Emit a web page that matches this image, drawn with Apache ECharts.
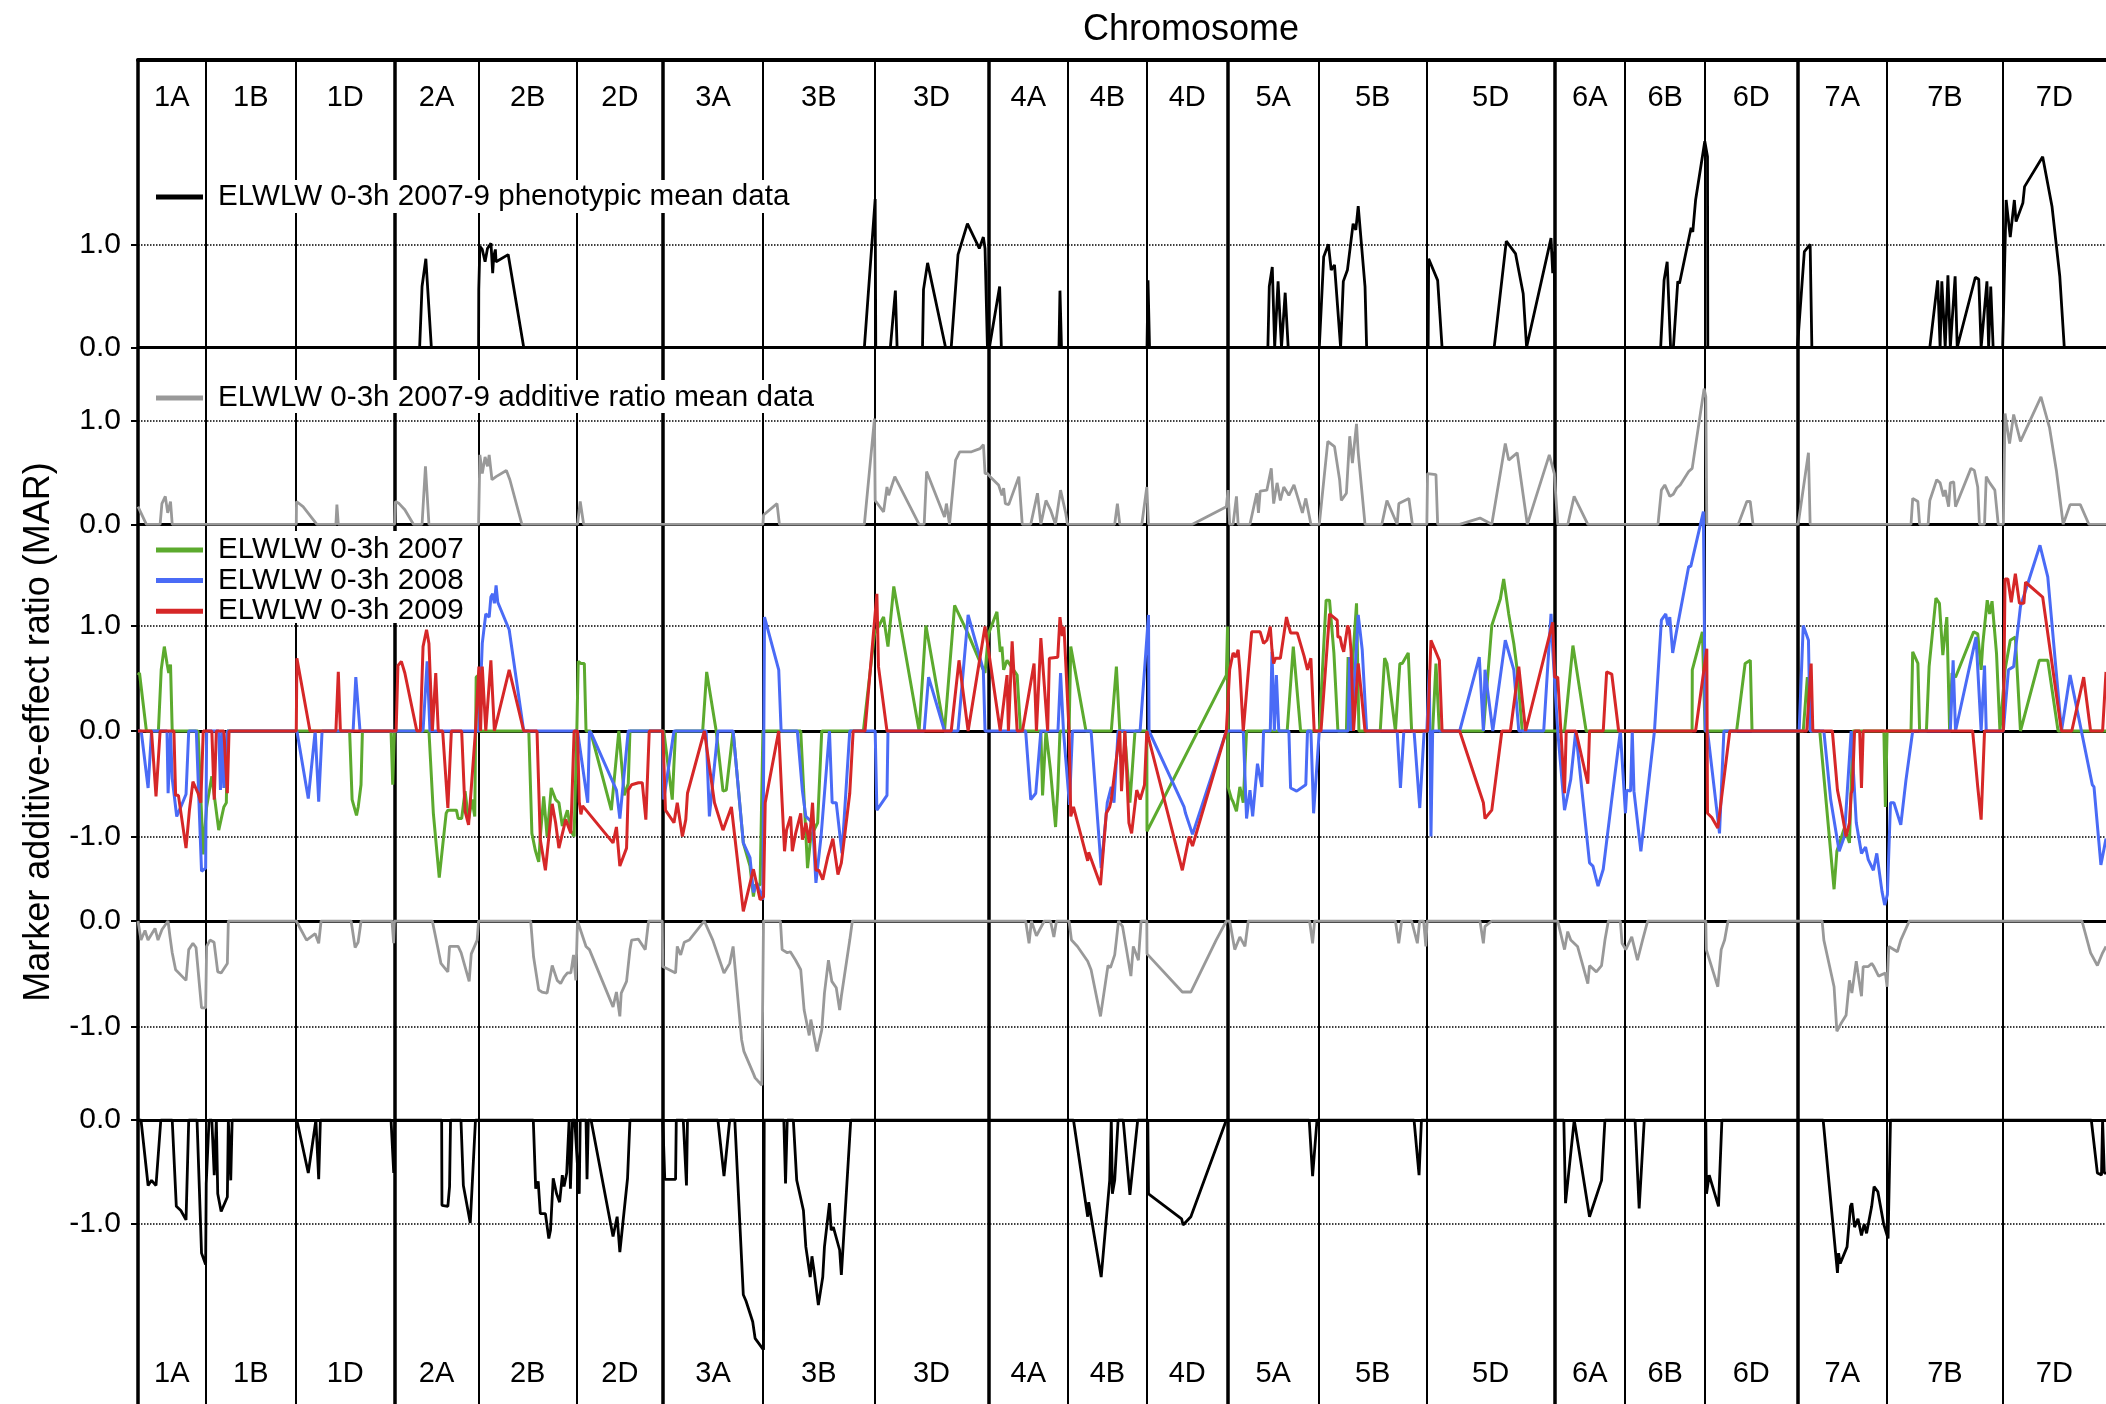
<!DOCTYPE html>
<html><head><meta charset="utf-8">
<script src="https://cdn.jsdelivr.net/npm/echarts@6/dist/echarts.min.js"></script>
<style>html,body{margin:0;padding:0;background:#fff}#c{width:2106px;height:1404px}</style>
</head><body><div id="c"></div>
<script>
// Chromosomes and cumulative map positions of their boundaries (arbitrary genome units)
const chromosomes = ['1A','1B','1D','2A','2B','2D','3A','3B','3D','4A','4B','4D','5A','5B','5D','6A','6B','6D','7A','7B','7D'];
const boundaries = [0,67.5,158,256.3,340.4,438.6,524.5,624.9,736.1,850,929.6,1008.3,1089.1,1180,1288.2,1415.6,1486.4,1566.3,1658.6,1748.2,1863.7,1967];
const genomeGroupStarts = ['2A','3A','4A','5A','6A','7A'];

// Series: [cumulative position, marker additive-effect ratio]
const phenoPos = [[0,0],[281.5,0],[283.9,0.59],[287.7,0.86],[293.2,0],
[340.4,0],[340.6,0.56],[341.7,0.98],[344.1,0.95],[346.9,0.83],[349.3,0.96],[352.8,1.01],[354.5,0.72],[355.5,0.88],[357.2,0.95],[357.9,0.83],[370,0.9],[385.5,0],
[726,0],[736.8,1.44],[737.4,0],[752,0],[757,0.55],[758.7,0],[784.1,0],[785.1,0.56],[789.2,0.82],[807.1,0],
[812.8,0],[819.6,0.9],[829,1.2],[840.9,0.96],[844.9,1.07],[846.6,0.96],[849,0],[851,0],[861.2,0.59],[862.9,0],
[920.5,0],[921.5,0.55],[923,0],[1008.5,0],[1009.5,0.65],[1011,0],
[1129.3,0],[1130.7,0.59],[1133.7,0.78],[1136.1,0],[1139.5,0.64],[1142.9,0],[1146.6,0.53],[1149.6,0],
[1180.7,0],[1185.1,0.88],[1189.8,1.0],[1192.6,0.75],[1195.9,0.8],[1202,0],[1204.7,0.64],[1208.8,0.75],[1214.5,1.2],[1217.2,1.14],[1219.6,1.37],[1226.4,0.59],[1228,0],
[1289.5,0],[1290,0.86],[1299,0.65],[1303.4,0],
[1355.5,0],[1367.6,1.03],[1376.8,0.91],[1384.5,0.52],[1387.9,0],[1412.3,1.06],[1414,0.72],[1415.6,0.93],[1416.3,0],
[1521.9,0],[1525.3,0.65],[1527,0.65],[1528.4,0.83],[1531.8,0],[1534.6,0],[1539,0.64],[1540.7,0.62],[1552.3,1.16],[1554,1.12],[1556.8,1.43],[1566,2.0],[1568.7,1.85],[1569,0],
[1658.6,0],[1665.5,0.93],[1671.3,1.0],[1673,0],
[1790.9,0],[1798.8,0.65],[1801.2,0],[1802.9,0.64],[1806.3,0],[1809,0.7],[1811.4,0],[1816.2,0.69],[1818.3,0],[1836.4,0.68],[1839.8,0.66],[1842.2,0],[1848,0.64],[1849.7,0],[1851.8,0.59],[1854.2,0],
[1863.7,0],[1867.2,1.43],[1871.3,1.07],[1875.4,1.43],[1877.1,1.22],[1883.9,1.4],[1885.6,1.56],[1903.7,1.85],[1913,1.37],[1920.8,0.69],[1925.3,0],[1967,0]];

const addPos = [[0,0.17],[8.4,0],[22.1,0],[23.9,0.2],[27.3,0.27],[29.7,0.11],[32.5,0.22],[34.2,0],
[158.2,0],[158.4,0.22],[165,0.17],[178.8,0],[197.8,0],[198.8,0.19],[200.2,0],
[256.5,0],[257.3,0.22],[261,0.2],[266.7,0.14],[275.3,0],[283.9,0],[287.3,0.56],[290.8,0],
[340.4,0],[341.7,0.67],[344.1,0.49],[346.9,0.65],[349.3,0.56],[351,0.67],[353.8,0.43],[357.9,0.46],[368.2,0.52],[371.7,0.43],[383.7,0],
[439.3,0],[442,0.22],[445.4,0],[624.6,0],[625.2,0.09],[638.7,0.2],[641.1,0],
[726,0],[736.1,1.02],[736.8,0.23],[745.2,0.12],[748.6,0.36],[750.3,0.28],[756.4,0.46],[780.7,0],[785.8,0],[788.2,0.51],[806.1,0.07],[808,0.2],[811.1,0],[817.2,0.62],[821.3,0.7],[833.1,0.7],[841.6,0.73],[845,0.77],[846.6,0.49],[849,0.49],
[851.7,0.46],[860.1,0.38],[863.5,0.28],[865.2,0.35],[866.9,0.2],[870.3,0.19],[872,0.2],[880.4,0.46],[883.8,0],[892.3,0],[899,0.3],[902.4,0],[907.5,0.23],[912,0.14],[917,0],[922.1,0.33],[927.2,0.11],[929,0],
[976.2,0],[978.9,0.2],[981.3,0],[1003.3,0],[1008.3,0.36],[1010,0],[1054,0],[1087.8,0.17],[1089.5,0.33],[1091.1,0],
[1094.5,0],[1097.9,0.27],[1099.6,0],[1111.4,0],[1118.2,0.3],[1119.9,0.11],[1121.6,0.32],[1128.3,0.33],[1132.7,0.54],[1135.1,0.2],[1138.5,0.4],[1141.8,0.23],[1145.2,0.36],[1150.3,0.28],[1155.4,0.38],[1163.8,0.11],[1167.2,0.25],[1172.3,0],
[1180.7,0],[1189.2,0.8],[1195.9,0.75],[1201,0.43],[1202.7,0.23],[1207.8,0.3],[1211.1,0.85],[1213.8,0.59],[1217.9,0.97],[1219.6,0.69],[1226.4,0],
[1243.2,0],[1248.3,0.23],[1258.5,0],[1260.2,0.2],[1270.2,0.25],[1273.7,0],
[1288.2,0],[1288.9,0.49],[1297.3,0.48],[1299,0],[1321,0],[1341.3,0.06],[1353.1,0],[1366.6,0.78],[1370,0.62],[1378.5,0.69],[1388.6,0],[1410.6,0.67],[1415.6,0.49],
[1419,0],[1429.1,0],[1435.4,0.27],[1449.1,0],
[1519.2,0],[1522.6,0.33],[1526,0.38],[1531.1,0.27],[1534.5,0.29],[1538,0.35],[1541.4,0.38],[1549.9,0.51],[1553.4,0.54],[1565.3,1.31],[1567,1.23],[1568,0],
[1599.5,0],[1608,0.22],[1611.4,0.22],[1614.2,0],[1659.3,0],[1669.6,0.69],[1671.3,0],
[1772.1,0],[1773.8,0.25],[1779,0.22],[1780.7,0],[1789.2,0],[1790.9,0.23],[1797.8,0.43],[1801.2,0.4],[1804.6,0.27],[1806.3,0.33],[1809.7,0.17],[1811.4,0.4],[1814.8,0.41],[1816.6,0.17],[1832,0.54],[1835.4,0.52],[1838.8,0.36],[1840.5,0],[1845.6,0],[1847.3,0.46],[1850.8,0.4],[1855.9,0.33],[1859.3,0],
[1864.4,0],[1866.1,1.07],[1870.6,0.78],[1874.7,1.06],[1881.5,0.8],[1902,1.23],[1910.6,0.93],[1917.4,0.52],[1924.2,0],[1931.1,0.19],[1941.3,0.19],[1949.9,0],[1967,0]];

const mar2007 = [[0,0.53],[1.5,0.55],[8.4,0],[20.4,0],[23.2,0.58],[26.3,0.8],[29,0.64],[30.7,0.55],[32.5,0.63],[34.2,0],
[60,0],[65.2,-1.17],[67.6,-0.84],[68.6,-0.72],[73.8,-0.43],[80.7,-0.94],[85.8,-0.72],[88.3,-0.68],[89.3,0],
[211.5,0],[214,-0.65],[218.4,-0.8],[220.1,-0.72],[222.9,-0.51],[224.3,0],[252.9,0],[254.6,-0.51],[256.3,0],
[290.8,0],[295.2,-0.78],[301.1,-1.39],[308,-0.78],[309.7,-0.75],[318.3,-0.75],[320,-0.83],[323.5,-0.83],[326.9,-0.57],[330.4,-0.84],[333.8,-0.65],[336.6,-0.81],[338,0.51],[340.4,0.53],[341,0],
[390.6,0],[393.7,-0.97],[397.1,-1.13],[400.5,-1.24],[402.1,-1.0],[405.5,-0.62],[408.9,-1.0],[413,-0.54],[417.4,-0.65],[420.7,-0.68],[424.1,-0.9],[429.2,-0.75],[432.6,-0.95],[435.9,-1.0],[438.6,0],
[440,0.66],[442.7,0.64],[446.1,0.64],[447.8,0],[452.2,0],[473.1,-0.75],[480.6,0],[486,-0.61],[490,-0.5],[491.7,0],
[525.5,0],[534,-0.65],[537.3,0],[564.4,0],[568.4,0.56],[577.9,0],[584.7,-0.57],[588,-0.56],[594.8,0],[605,-1.06],[611.7,-1.28],[615.1,-1.57],[616.8,-1.46],[621.8,-1.46],[624.6,0],
[662.4,0],[669.2,-1.3],[672.5,-1.0],[679.3,-0.87],[683.4,0],
[725,0],[736.1,0.92],[745.2,1.08],[749.6,0.8],[755.4,1.37],[780.7,0],[787.5,1.0],[806.1,0],[816.2,1.19],[829.7,0.92],[844.9,0.58],[846.6,0.55],[850,0.92],[858.5,1.13],[861.8,0.75],[863.5,0.8],[865.2,0.58],[868.6,0.67],[878.7,0.53],[882.1,0],[902.4,0],[904.1,-0.61],[907.5,0],[912,-0.37],[917.1,-0.91],[919.4,-0.54],[921.5,0],
[930.6,0],[932.3,0.8],[947.5,0],[972.8,0],[977.9,0.61],[981.3,0],[986,0],[991.4,-0.68],[996.5,0],
[1008.3,0],[1008.5,-0.95],[1087.8,0.53],[1089,0.99],[1089.5,-0.53],[1092.8,-0.64],[1094.5,-0.67],[1097.9,-0.76],[1101.3,-0.53],[1104.7,-0.68],[1108,0],
[1148.6,0],[1154.7,0.8],[1162,0],
[1180.7,0],[1187.5,1.24],[1190.9,1.24],[1195.3,0.74],[1199.3,0],[1207.8,0],[1209.5,0.7],[1211,0],[1214.5,0.72],[1217.9,1.21],[1220.3,0],[1241.6,0],[1246,0.69],[1248.3,0.64],[1256.8,0],[1261.2,0.64],[1263.6,0.64],[1269.6,0.74],[1273,0],
[1294,0],[1297.3,0.64],[1300.7,0],[1344.7,0],[1353.1,1.0],[1361.6,1.25],[1365,1.44],[1370,1.11],[1375.1,0.83],[1378.5,0.58],[1383.5,0],
[1425.8,0],[1434.2,0.81],[1435.4,0.81],[1447.4,0],
[1553.3,0],[1553.5,0.58],[1563.6,0.94],[1566.3,0],[1597.8,0],[1606.3,0.64],[1611.5,0.67],[1613.2,0],
[1664.4,0],[1668.5,0.51],[1671.3,0],[1680.9,0],[1695.2,-1.5],[1698,-1.14],[1705.5,-0.92],[1710.6,-1.06],[1714,0],[1745,0],[1746.5,-0.72],[1748.2,0],
[1772.1,0],[1773.8,0.75],[1779,0.64],[1780.7,0],[1787.5,0],[1790.2,0.61],[1797,1.26],[1800.5,1.21],[1803.9,0.72],[1807.9,1.08],[1810.7,0],[1813.1,0.55],[1816.6,0.51],[1834.7,0.94],[1838.8,0.92],[1842.2,0.58],[1843.9,0.83],[1848.3,1.24],[1850.7,1.11],[1853.1,1.23],[1857.6,0.73],[1861,0],
[1866.1,0.58],[1871.3,0.86],[1876.4,0.89],[1881.5,0],[1900.3,0.67],[1908.8,0.67],[1919.1,0],[1967,0]];

const mar2008 = [[0,0],[3.2,0],[10.1,-0.54],[13.5,0],[29,0],[30.1,-0.59],[32.5,0],[34.2,-0.45],[38.7,-0.81],[42.8,-0.72],[48,-0.6],[50.7,0],[58.3,0],[63.5,-1.33],[67.6,-1.3],[68.6,0],[80.7,0],[82.4,-0.56],[84,0],[85.8,-0.54],[89.3,0],
[158.8,0],[170.2,-0.64],[177.1,0],[180.6,-0.67],[184,0],[215,0],[217.7,0.51],[221.9,0],[284.9,0],[289,0.66],[291.8,0],
[340.7,0],[344.1,0.83],[347.6,1.11],[351,1.08],[352.7,1.27],[354.5,1.3],[356.2,1.21],[357.9,1.38],[359.6,1.22],[371,0.96],[385.5,0],
[439.3,0],[449.5,-0.68],[451.2,0],[453,-0.02],[478.2,-0.56],[481.6,-0.83],[490,0],
[524.5,0],[525.5,-0.65],[535.7,0],[567.8,0],[571.1,-0.81],[579.6,0],[594.8,0],[605,-1.06],[611.7,-1.2],[615.1,-1.53],[618.5,-1.44],[624.5,-1.6],[626.2,1.08],[640.4,0.58],[642.8,0],
[659,0],[664.1,-0.57],[667.5,-0.81],[674.2,-0.87],[677.6,-1.44],[682.7,-1.0],[691.1,0],[693.8,-0.68],[697.9,-0.68],[703.6,-1.16],[711.4,0],
[736.8,0],[738.5,-0.75],[748.6,-0.61],[749.6,0],[785.8,0],[790.2,0.51],[806.1,0],[819.6,0],[829.7,1.1],[844.9,0.58],[846.6,0],
[887.2,0],[892.3,-0.65],[897.3,-0.59],[902.4,0],[919.5,0],[922.1,0.55],[925,0],[931,-0.7],[934,0],
[952.6,0],[962.7,-1.3],[968.8,-0.68],[972.8,-0.53],[975.5,-0.68],[979.6,0],[1001.6,0],[1010,1.1],[1010.5,0],[1045.5,-0.72],[1047,-0.78],[1054,-0.98],[1087.8,0],
[1104.7,0],[1108,-0.83],[1111.4,-0.56],[1114.1,-0.81],[1118.9,-0.31],[1123.3,-0.53],[1125,0],[1131.7,0],[1133.4,0.75],[1135.8,0],[1137.8,0.53],[1140.2,0],[1150.3,0],[1152,-0.54],[1158.1,-0.57],[1167.2,-0.51],[1168.9,0],[1172.3,0],[1175,-0.78],[1180.7,0],
[1209.5,0],[1211.1,0.7],[1213,0],[1219.6,1.1],[1223.6,0.77],[1228,0],[1258.5,0],[1261.8,-0.54],[1265.2,0],[1275.4,0],[1281.1,-0.73],[1285.5,0],
[1288.2,0],[1290.6,0.58],[1292.3,-1.0],[1294,0],[1321,0],[1340.6,0.7],[1344.7,0],[1346.3,0.58],[1354.1,0],[1366.6,0.86],[1375.1,0.58],[1380.1,0],[1405,0],[1412.3,1.11],[1414,0.77],[1419,0],[1425.8,-0.75],[1432,-0.46],[1437,0],
[1450.8,-1.25],[1454.2,-1.28],[1459.3,-1.47],[1464.5,-1.31],[1473,-0.65],[1481.6,0],[1486.7,-0.78],[1488,-0.56],[1489.5,-0.55],[1491.8,-0.57],[1493.5,0],[1495.2,-0.57],[1502.1,-1.14],[1515.7,0],
[1522.6,1.05],[1524.5,1.05],[1527,1.11],[1529,1.0],[1531,1.08],[1533.9,0.74],[1538,0.96],[1549.9,1.56],[1552,1.56],[1564.6,2.08],[1566.5,0],
[1568.7,0],[1580.7,-0.97],[1585.1,0],
[1660.3,0],[1664.4,1.0],[1669.6,0.86],[1671.3,0],[1685,0],[1691.8,-0.65],[1700.3,-1.14],[1705.5,-1.0],[1712.3,0],[1717.4,-0.87],[1722.6,-1.16],[1726.7,-1.1],[1729.4,-1.22],[1734.5,-1.32],[1737.9,-1.16],[1743.1,-1.52],[1745.8,-1.65],[1748.5,-1.55],[1751.6,-0.68],[1755,-0.68],[1761.9,-0.89],[1767,-0.47],[1773.8,0],
[1811.4,0],[1814.2,0.67],[1816.6,0],[1837.1,0.89],[1842.2,0],[1845.6,0.62],[1847.3,0],
[1864.4,0],[1869.5,0.58],[1874.7,0.61],[1881.5,1.18],[1901,1.76],[1908.8,1.46],[1922.5,0],[1931.1,0.53],[1953.3,-0.51],[1955,-0.53],[1961.9,-1.27],[1967,-1.02]];

const mar2009 = [[0,0],[13.5,0],[18,-0.62],[22.1,0],[35.9,0],[37.6,-0.61],[40.4,-0.61],[48,-1.11],[51.4,-0.75],[54.9,-0.48],[60,-0.59],[62.8,-0.68],[65.2,0],[73.8,0],[76.2,-0.65],[78.3,0],[85.8,0],[89.3,-0.59],[91,0],
[158.2,0],[158.8,0.69],[171.9,0],[197.8,0],[200.2,0.56],[202.3,0],
[258,0],[259.8,0.62],[263.2,0.66],[266.7,0.55],[278.7,0],[282.2,0],[284.9,0.8],[288.4,0.96],[290.8,0.83],[294.2,0],[297.6,0.55],[300.1,0],[304.5,0],[309.7,-0.73],[313.2,0],[323.5,0],[326.9,-0.76],[330.4,-0.89],[337.3,0],
[340.7,0.61],[342.4,0],[344.1,0.61],[347.6,0],[352.7,0.67],[356.2,0],[371,0.58],[385.5,0],
[398.8,0],[402.1,-1.03],[407.2,-1.32],[414,-0.69],[417.4,-0.87],[420.7,-1.11],[427.5,-0.84],[432.6,-0.97],[435.9,0],[439.3,0],[441,-0.67],[442.7,-0.79],[444.4,-0.71],[474.8,-1.06],[478.2,-0.91],[481.6,-1.28],[488.3,-1.11],[490,-0.56],[493.4,-0.51],[500.2,-0.49],[504,-0.49],[507.6,-0.84],[511,0],
[524.5,0],[527.2,-0.75],[535.7,-0.87],[539,-0.68],[544.1,-1.0],[547.5,-0.84],[549.2,-0.59],[566.1,0],[576.2,-0.68],[584.7,-0.94],[593.1,-0.72],[595,-0.72],[605,-1.71],[615.1,-1.31],[621.8,-1.6],[625.2,-1.57],
[626.9,-0.68],[640.4,0],[643.8,-0.68],[646.2,-1.14],[648.2,-0.94],[652.3,-0.81],[654,-1.14],[657.3,-0.97],[662.4,-0.78],[664.1,-1.03],[667.5,-0.87],[670.9,-1.06],[674.2,-0.68],[677.6,-1.32],[680.5,-1.32],[684.4,-1.41],[689.5,-1.19],[694.5,-1.02],[699.6,-1.36],[703,-1.25],[711.4,-0.59],[714.8,0],
[726.6,0],[738.5,1.3],[740.1,0.61],[748.6,0],[812.8,0],[820.6,0.67],[829.7,0],[846.6,0.99],[861.8,0],[868.6,0.53],[870,0],[873.7,0.85],[878.7,0],[884,0],[895.6,0.64],[898,0],[902.4,0.88],[909.2,0],[910.9,0.69],[919.3,0.7],[921.5,1.08],[923.8,0.9],[925.5,0.99],[930.6,0],
[932.3,-0.81],[935,-0.72],[949.2,-1.23],[950.2,-1.15],[962,-1.46],[967.8,-0.78],[971.2,-0.72],[972.8,-0.65],[981.3,0],[983,-0.57],[986.4,0],[990.4,-0.87],[993.1,-0.97],[998.2,-0.56],[1001.6,-0.65],[1006,-0.51],[1008.3,0],
[1010,0],[1043.8,-1.32],[1050.6,-1.0],[1054,-1.09],[1087.8,0],
[1091.1,0.58],[1094.5,0.74],[1097.2,0.7],[1099.6,0.77],[1101.3,0.58],[1104.7,0],[1113.1,0.94],[1121.6,0.94],[1125,0.83],[1128.3,0.86],[1131.7,0.99],[1133.4,0.77],[1135.1,0.64],[1136.8,0.69],[1141.8,0.69],[1147.9,1.08],[1150.3,0.99],[1152,0.93],[1158.7,0.93],[1165.5,0.71],[1168.9,0.58],[1172.3,0.69],[1175.6,0],
[1182.4,0],[1190.9,1.11],[1198.6,1.05],[1199.3,0.89],[1201.5,0.89],[1203.4,0.8],[1205.1,0.75],[1209.1,1.0],[1210.8,0.95],[1212.5,0.75],[1214.9,0],[1219.6,0.64],[1223,0.33],[1226.4,0],
[1288.9,0],[1292.3,0.86],[1300.7,0.67],[1303.4,0],[1321,0],[1344.7,-0.68],[1346.3,-0.83],[1353.1,-0.75],[1363.2,0],[1371.7,0],[1380.1,0.61],[1386.9,0],[1414,1.03],[1416,0.51],[1419,0.51],[1425.8,-0.59],[1427.5,0],
[1437.1,0],[1449.1,-0.5],[1450.8,0],[1464.5,0],[1467.9,0.56],[1473,0.54],[1479.9,0],
[1556.8,0],[1568,0.78],[1568.7,-0.78],[1573,-0.82],[1579,-0.92],[1591,0],
[1667.9,0],[1672.3,0.64],[1674,0],[1693.5,0],[1698.6,-0.56],[1702,-0.72],[1707.2,-1.0],[1710.6,-0.87],[1712.3,-0.59],[1713.5,-0.56],[1715.7,0],[1720.8,0],[1722.6,-0.54],[1724.3,0],
[1833.7,0],[1838.8,-0.53],[1842.2,-0.84],[1845.6,0],
[1864.4,0],[1866.1,1.44],[1868.9,1.44],[1872.3,1.22],[1876.4,1.49],[1880.5,1.21],[1884.9,1.21],[1886.6,1.41],[1903.7,1.27],[1922.5,0],[1932.8,0],[1944.7,0.51],[1951.6,0],[1963.6,0],[1967,0.56]];

const addNeg = [[0,0],[3,-0.18],[7,-0.09],[10,-0.18],[17,-0.07],[20,-0.18],[24,-0.08],[30,0],[32,-0.15],[34.2,-0.3],[37.6,-0.46],[48,-0.56],[50.7,-0.27],[54.9,-0.21],[58,-0.25],[63.5,-0.82],[67.6,-0.82],[68.6,-0.24],[72,-0.18],[76,-0.2],[79.7,-0.48],[83.1,-0.49],[89.3,-0.4],[90.3,0],
[158.2,0],[168.5,-0.18],[177.1,-0.12],[180.6,-0.21],[183,0],[213,0],[217,-0.25],[220,-0.2],[223,0],[253.9,0],[255.5,-0.21],[256.3,0],
[294.2,0],[299.4,-0.24],[302.8,-0.4],[309.7,-0.48],[311.4,-0.24],[320,-0.24],[323,-0.3],[331,-0.57],[333.1,-0.31],[339,-0.18],[340.4,0],
[392.5,0],[395.4,-0.34],[400.5,-0.65],[403.8,-0.67],[408.9,-0.68],[410.6,-0.68],[414,-0.42],[419,-0.56],[422.4,-0.59],[425.8,-0.53],[429.2,-0.49],[432.6,-0.49],[435.3,-0.32],[437.6,-0.56],[439.3,0],
[440.5,0],[447.8,-0.24],[451.2,-0.27],[474.8,-0.81],[478.2,-0.67],[481.6,-0.9],[483,-0.68],[488.3,-0.57],[491.7,-0.27],[493.4,-0.18],[500,-0.17],[507,-0.27],[510.3,0],
[524,0],[524.5,-0.43],[537.3,-0.49],[539,-0.24],[542.4,-0.32],[546,-0.2],[550.9,-0.18],[566,0],[574.5,-0.18],[585.7,-0.49],[591.4,-0.4],[594.8,-0.24],[603.3,-1.12],[605.6,-1.23],[615.1,-1.44],[616.8,-1.48],[623.5,-1.55],[625.2,0],
[642.1,0],[643.8,-0.27],[648.9,-0.3],[652,-0.29],[657.3,-0.37],[662.4,-0.46],[665.8,-0.84],[670.9,-1.08],[672.5,-0.93],[678.6,-1.23],[683.4,-1.03],[686.1,-0.68],[690.1,-0.37],[693.5,-0.57],[697.9,-0.63],[701.3,-0.84],[703,-0.71],[711.4,-0.18],[714,0],
[887.2,0],[890.6,-0.21],[893,0],[898,-0.14],[905.8,0],[912,0],[915.4,-0.15],[918,0],
[930.6,0],[933,-0.18],[939,-0.24],[949.2,-0.38],[952.6,-0.46],[962,-0.9],[969.5,-0.42],[972,-0.44],[976.2,-0.32],[977.9,-0.18],[980,0],[984,-0.05],[988,-0.27],[992.4,-0.52],[994.8,-0.24],[999.9,-0.37],[1002.6,0],
[1008.3,0],[1008.5,-0.31],[1043.8,-0.67],[1052.3,-0.67],[1077.6,-0.18],[1087.8,0],
[1091.1,0],[1096.2,-0.27],[1101.3,-0.15],[1106.4,-0.24],[1109.7,0],[1171,0],[1174,-0.21],[1176,0],
[1256.8,0],[1260.1,-0.21],[1263,0],[1273,0],[1278.7,-0.21],[1281,0],[1285,0],[1287.2,-0.24],[1288.5,0],
[1341.3,0],[1344.7,-0.21],[1346.3,-0.05],[1353.1,0],
[1419,0],[1425.8,-0.27],[1429,-0.1],[1432,-0.18],[1438.8,-0.24],[1449.1,-0.59],[1450.8,-0.42],[1457.6,-0.48],[1462.8,-0.42],[1466.2,-0.18],[1469.6,0],[1481.6,0],[1483.3,-0.21],[1487,-0.27],[1493,-0.15],[1498.7,-0.37],[1503.8,-0.18],[1508.9,0],
[1567,0],[1567.5,-0.27],[1579,-0.62],[1582.4,-0.27],[1585.8,-0.18],[1589.2,0],
[1683.3,0],[1685,-0.18],[1695.2,-0.62],[1698,-1.04],[1702,-0.97],[1707.2,-0.89],[1710.6,-0.56],[1713,-0.68],[1717.4,-0.38],[1719.1,-0.49],[1722.6,-0.71],[1724.3,-0.43],[1729.4,-0.43],[1732.8,-0.4],[1735,-0.43],[1739.7,-0.52],[1746.5,-0.49],[1748.2,-0.62],[1749.9,-0.24],[1758.5,-0.29],[1761.9,-0.18],[1770.4,0],
[1943,0],[1951.6,-0.3],[1958.4,-0.42],[1963.6,-0.3],[1967,-0.24]];

const phenoNeg = [[0,0],[3,0],[10.1,-0.63],[13.5,-0.58],[18,-0.63],[22.8,0],[34.2,0],[38.3,-0.83],[42.8,-0.87],[48,-0.96],[50.7,0],[59,0],[63.5,-1.28],[67.6,-1.39],[68.2,-0.61],[71,0],[73.8,0],[76.2,-0.53],[78.3,0],[79.7,-0.71],[83.1,-0.88],[89.3,-0.74],[90.3,0],[92.7,-0.58],[94.1,0],
[158.8,0],[170.2,-0.51],[177.8,0],[180.6,-0.57],[182.3,0],[252.9,0],[255.6,-0.51],[256.7,0],
[303.5,0],[303.8,-0.82],[309.7,-0.83],[311.4,-0.64],[312.4,0],[322.8,0],[325.2,-0.63],[332.1,-0.99],[337.3,0],
[395.1,0],[397.5,-0.66],[398.8,-0.66],[400,-0.59],[402.1,-0.9],[407.2,-0.9],[410.6,-1.14],[412.3,-1.06],[415,-0.56],[418.4,-0.71],[421.4,-0.79],[424.1,-0.53],[425.8,-0.64],[428.5,-0.51],[430.9,0],[432.2,-0.66],[434.3,0],[436.5,0],[441,-0.71],[442,0],
[447.8,0],[448.8,-0.57],[450.1,0],[452.8,0],[474.8,-1.12],[478.9,-0.93],[481.6,-1.27],[489.3,-0.56],[491.7,0],
[524.5,0],[526.5,-0.57],[537.3,-0.57],[538,0],[545,0],[548.2,-0.63],[549.2,0],[579.6,0],[585.7,-0.54],[591.4,0],[596.5,0],[605,-1.68],[607.7,-1.74],[614.4,-1.94],[616.8,-2.1],[625.2,-2.21],[625.9,0],
[645.5,0],[647.2,-0.61],[648.9,0],[655,0],[658.4,-0.58],[665.1,-0.87],[667.5,-1.22],[671.9,-1.51],[673.6,-1.31],[676,-1.47],[680,-1.78],[684.4,-1.51],[686.1,-1.22],[691.1,-0.8],[692.8,-1.06],[695,-1.03],[701.3,-1.25],[703,-1.49],[712.4,0],
[935,0],[949.2,-0.93],[950.2,-0.79],[952.6,-0.93],[962.7,-1.51],[971.2,-0.58],[972.8,0],[973.9,-0.71],[976.2,-0.58],[979.6,0],[984.7,0],[991.4,-0.72],[999.2,0],
[1009.3,0],[1010,-0.71],[1043.1,-0.95],[1044.5,-1.01],[1052.3,-0.93],[1087.8,0],
[1170.6,0],[1174,-0.54],[1178.4,0],[1275.4,0],[1280.4,-0.53],[1282.8,0],
[1425.1,0],[1426.8,-0.8],[1435.5,0],[1436.1,0],[1450.8,-0.93],[1462.8,-0.58],[1466.2,0],
[1496.3,0],[1500.4,-0.85],[1505.5,0],[1567,0],[1567.7,-0.71],[1570.4,-0.53],[1579.7,-0.83],[1583.1,0],
[1684.3,0],[1698.6,-1.47],[1699.7,-1.28],[1701.4,-1.38],[1708.2,-1.22],[1711.6,-0.83],[1713,-0.8],[1715.7,-1.03],[1719.1,-0.95],[1722.6,-1.11],[1725.3,-1.0],[1727.7,-1.09],[1732.8,-0.83],[1735.2,-0.64],[1739,-0.69],[1744.8,-1.0],[1749.2,-1.14],[1751.6,0],
[1952.3,0],[1958.4,-0.51],[1962.5,-0.53],[1963.6,0],[1965.3,-0.51],[1967,-0.51]];

const NAME_PHENO = 'ELWLW 0-3h 2007-9 phenotypic mean data';
const NAME_ADD = 'ELWLW 0-3h 2007-9 additive ratio mean data';
const NAME_2007 = 'ELWLW 0-3h 2007';
const NAME_2008 = 'ELWLW 0-3h 2008';
const NAME_2009 = 'ELWLW 0-3h 2009';

const FONT = '"Liberation Sans", Arial, Helvetica, sans-serif';
const BLACK = '#000000', GRAY = '#999999', GREEN = '#5caa2e', BLUE = '#4a6bf6', RED = '#d62728';
const XMAX = boundaries[boundaries.length - 1];

const centers = chromosomes.map((c, i) => (boundaries[i] + boundaries[i + 1]) / 2);
const nameAt = v => { let best = 0; centers.forEach((c, i) => { if (Math.abs(c - v) < Math.abs(centers[best] - v)) best = i; }); return chromosomes[best]; };

const chart = echarts.init(document.getElementById('c'), null, { renderer: 'canvas' });

const panels = [
  { top: 120.7, height: 226.6, min: 0, max: 2.2, ticks: [0, 1], dotted: [1] },
  { top: 368.9, height: 155.4, min: 0, max: 1.5, ticks: [0, 1], dotted: [1] },
  { top: 498.9, height: 443.1, min: -2, max: 2.2, ticks: [-1, 0, 1], dotted: [1, -1] },
  { top: 921, height: 180.2, min: -1.7, max: 0, ticks: [-1, 0], dotted: [-1] },
  { top: 1120, height: 249.6, min: -2.4, max: 0, ticks: [-1, 0], dotted: [-1] }
];

const grids = [{ left: 138, right: 0, top: 60, bottom: 0, outerBoundsMode: 'none' }];
const xAxes = [
  { gridIndex: 0, type: 'value', position: 'top', min: 0, max: XMAX,
    axisLine: { show: true, onZero: false, lineStyle: { color: BLACK, width: 4 } },
    axisTick: { show: false }, splitLine: { show: false },
    axisLabel: { inside: true, customValues: centers, formatter: nameAt, margin: 23, fontSize: 29, color: BLACK, fontFamily: FONT } },
  { gridIndex: 0, type: 'value', position: 'bottom', min: 0, max: XMAX,
    axisLine: { show: false, onZero: false }, axisTick: { show: false }, splitLine: { show: false },
    axisLabel: { inside: true, customValues: centers, formatter: nameAt, margin: 16, fontSize: 29, color: BLACK, fontFamily: FONT } }
];
const yAxes = [
  { gridIndex: 0, type: 'value', min: 0, max: 1,
    axisLine: { show: true, onZero: false, lineStyle: { color: BLACK, width: 3.5 } },
    axisTick: { show: false }, axisLabel: { show: false }, splitLine: { show: false },
    name: 'Marker additive-effect ratio (MAR)', nameLocation: 'middle', nameRotate: 90, nameGap: 81,
    nameTextStyle: { fontSize: 36, color: BLACK, fontFamily: FONT } }
];
panels.forEach((p, i) => {
  grids.push({ left: 138, right: 0, top: p.top, height: p.height, outerBoundsMode: 'none' });
  xAxes.push({ gridIndex: i + 1, type: 'value', min: 0, max: XMAX,
    axisLine: { show: true, onZero: true, lineStyle: { color: BLACK, width: 3 } },
    axisTick: { show: false }, axisLabel: { show: false }, splitLine: { show: false } });
  yAxes.push({ gridIndex: i + 1, type: 'value', min: p.min, max: p.max,
    axisLine: { show: false }, splitLine: { show: false },
    axisTick: { show: true, customValues: p.ticks, length: 7, lineStyle: { color: BLACK, width: 2 } },
    axisLabel: { customValues: p.ticks, formatter: v => Number(v).toFixed(1), margin: 17, fontSize: 30, color: BLACK, fontFamily: FONT } });
});

const dottedLines = vals => ({
  silent: true, z: 1, symbol: ['none', 'none'], label: { show: false }, animation: false,
  lineStyle: { type: 'dotted', color: BLACK, width: 1.5 },
  emphasis: { disabled: true },
  data: vals.map(v => ({ yAxis: v }))
});

const lineSeries = (name, data, color, gi, width, extra) => Object.assign({
  name, type: 'line', data, xAxisIndex: gi + 1, yAxisIndex: gi,
  showSymbol: false, symbol: 'none', silent: true, animation: false,
  itemStyle: { color }, lineStyle: { color, width },
  emphasis: { disabled: true }
}, extra || {});

const series = [
  { type: 'line', xAxisIndex: 0, yAxisIndex: 0, data: [], silent: true, animation: false, z: 1,
    markLine: {
      silent: true, z: 1, symbol: ['none', 'none'], label: { show: false }, animation: false,
      emphasis: { disabled: true },
      data: boundaries.slice(1, -1).map((b, i) => ({
        xAxis: b,
        lineStyle: { color: BLACK, type: 'solid', width: genomeGroupStarts.includes(chromosomes[i + 1]) ? 3.5 : 2 }
      }))
    } },
  lineSeries(NAME_PHENO, phenoPos, BLACK, 1, 2.8, { markLine: dottedLines(panels[0].dotted) }),
  lineSeries(NAME_ADD, addPos, GRAY, 2, 2.8, { markLine: dottedLines(panels[1].dotted) }),
  lineSeries(NAME_2007, mar2007, GREEN, 3, 3, { markLine: dottedLines(panels[2].dotted) }),
  lineSeries(NAME_2008, mar2008, BLUE, 3, 3),
  lineSeries(NAME_2009, mar2009, RED, 3, 3),
  lineSeries(NAME_ADD, addNeg, GRAY, 4, 2.8, { markLine: dottedLines(panels[3].dotted) }),
  lineSeries(NAME_PHENO, phenoNeg, BLACK, 5, 2.8, { markLine: dottedLines(panels[4].dotted) })
];

const legendBase = {
  icon: 'rect', itemWidth: 47, itemHeight: 5, padding: 0, selectedMode: false, left: 156, z: 20,
  textStyle: { fontSize: 29.6, fontFamily: FONT, color: BLACK, lineHeight: 30, padding: [0, 0, 0, 10] }
};

// White boxes behind the legend texts (the legend labels interrupt the chromosome dividers)
const legendMask = (x, y, w, h) => ({ type: 'rect', silent: true, z: 15, shape: { x, y, width: w, height: h }, style: { fill: '#ffffff' } });

chart.setOption({
  backgroundColor: '#ffffff',
  animation: false,
  title: { text: 'Chromosome', left: 1083, top: 12, padding: 0,
    textStyle: { fontSize: 36, fontWeight: 'normal', color: BLACK, fontFamily: FONT } },
  graphic: [
    legendMask(209, 180, 590, 33),
    legendMask(209, 380, 612, 33),
    legendMask(209, 531, 262, 92)
  ],
  legend: [
    Object.assign({}, legendBase, { data: [NAME_PHENO], top: 182 }),
    Object.assign({}, legendBase, { data: [NAME_ADD], top: 383 }),
    Object.assign({}, legendBase, { data: [NAME_2007, NAME_2008, NAME_2009], orient: 'vertical', top: 535, itemGap: 0.6 })
  ],
  grid: grids,
  xAxis: xAxes,
  yAxis: yAxes,
  series
});
</script>
</body></html>
